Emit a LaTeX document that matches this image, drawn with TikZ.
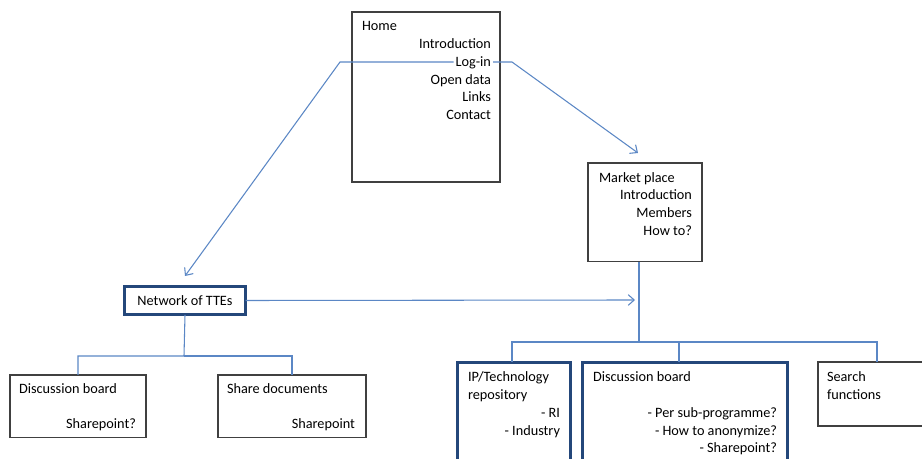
\documentclass[tikz,border=0pt]{standalone}
\usepackage{fontspec}
\setmainfont{Carlito}
\usetikzlibrary{arrows.meta,calc}
\definecolor{conn}{HTML}{5B87C5}
\definecolor{thickblue}{HTML}{24477A}
\definecolor{thingray}{HTML}{404040}
\begin{document}
\begin{tikzpicture}[x=0.75pt,y=-0.75pt,
  every node/.style={font=\fontsize{10.7}{13}\selectfont, inner sep=0pt, outer sep=0pt},
  thinbox/.style={draw=thingray, line width=0.9pt, rectangle, fill=white},
  thickbox/.style={draw=thickblue, line width=2.2pt, rectangle, fill=white},
  lt/.style={anchor=base west},
  rt/.style={anchor=base east},
  conline/.style={draw=conn, line width=0.8pt},
  arr/.style={conline, -{Straight Barb[length=4.5pt,width=8pt]}}
]
\useasboundingbox (0,0) rectangle (922,459);
% Boxes
\node[thinbox, minimum width=111pt, minimum height=127.5pt, anchor=north west] (home) at (352,12) {};
\node[thinbox, minimum width=85.5pt, minimum height=74pt, anchor=north west] (market) at (588,163) {};
\node[thickbox, minimum width=91pt, minimum height=21.5pt] (net) at (185,300.5) {Network of TTEs};
\node[thinbox, minimum width=102pt, minimum height=47pt, anchor=north west] (disc1) at (10,375) {};
\node[thinbox, minimum width=111pt, minimum height=47pt, anchor=north west] (share) at (218,375) {};
\node[thickbox, minimum width=84.5pt, minimum height=90pt, anchor=north west] (ip) at (457.5,362.5) {};
\node[thickbox, minimum width=153.5pt, minimum height=90pt, anchor=north west] (disc2) at (582.5,362.5) {};
\node[thinbox, minimum width=90pt, minimum height=48pt, anchor=north west] (search) at (818,362) {};
% Home texts
\node[lt] (thome) at (362,31) {Home};
\node[rt] (tintro) at (491,48.5) {Introduction};
\node[rt] (login) at (491,66.5) {Log-in};
\node[rt] (topen) at (491,84.5) {Open data};
\node[rt] (tlinks) at (491,102) {Links};
\node[rt] (tcontact) at (491,119.5) {Contact};
% Market texts
\node[lt] (tmarket) at (599,183) {Market place};
\node[rt] (tmintro) at (692,200) {Introduction};
\node[rt] (tmembers) at (692,218) {Members};
\node[rt] (thowto) at (692,236) {How to?};
% Left boxes
\node[lt] (td1) at (19,394) {Discussion board};
\node[rt] (td1s) at (136,429) {Sharepoint?};
\node[lt] (tsh) at (227,394) {Share documents};
\node[rt] (tshs) at (355,429) {Sharepoint};
% IP box
\node[lt] (tip1) at (468,382) {IP/Technology};
\node[lt] (tip2) at (468,399.5) {repository};
\node[rt] (tip3) at (560,417.5) {- RI};
\node[rt] (tip4) at (560,435.5) {- Industry};
% Discussion board 2
\node[lt] (td2) at (593,382) {Discussion board};
\node[rt] (td2a) at (777,417.5) {- Per sub-programme?};
\node[rt] (td2b) at (777,435.5) {- How to anonymize?};
\node[rt] (td2c) at (777,453) {- Sharepoint?};
% Search
\node[lt] (ts1) at (827,382) {Search};
\node[lt] (ts2) at (827,399.5) {functions};
% Coordinates
\coordinate (lbend) at (340,62);
\coordinate (ltip) at (185,276);
\coordinate (rbend) at (512,62);
\coordinate (rtip) at (638,153);
\coordinate (ntip) at (635,300);
\coordinate (mdown) at (639,342);
% Connectors
\draw[arr] ([xshift=-1.5pt]login.west |- lbend) -- (lbend) -- (ltip);
\draw[arr] ([xshift=1.5pt]login.east |- rbend) -- (rbend) -- (rtip);
\draw[arr] (net.east) -- (ntip);
\draw[conline] (market.south -| mdown) -- (mdown);
\draw[conline] (mdown) -| (ip.north -| 512,0);
\draw[conline] (mdown) -| (disc2.north -| 679,0);
\draw[conline] (mdown) -| (search.north -| 877,0);
\draw[conline] (net.south) -- (184,356) -| (disc1.north -| 78,0);
\draw[conline] (184,356) -| (share.north -| 292,0);
\end{tikzpicture}
\end{document}
